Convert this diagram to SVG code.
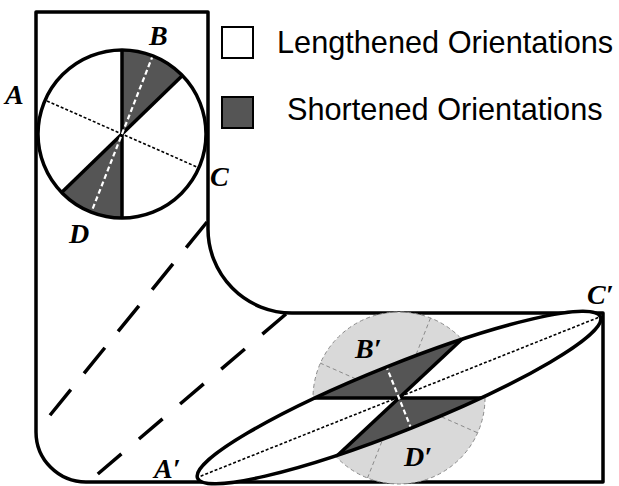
<svg xmlns="http://www.w3.org/2000/svg" width="619" height="486" viewBox="0 0 619 486">
<style>
.thick{fill:none;stroke:#000;stroke-width:3.5;stroke-linejoin:round}
.dark{fill:#555;stroke:none}
.lbl{font-family:"Liberation Serif",serif;font-weight:bold;font-style:italic;font-size:28px;fill:#000}
.leg{font-family:"Liberation Sans",Arial,sans-serif;font-size:30.7px;fill:#000}
.dotB{fill:none;stroke:#000;stroke-width:1.6;stroke-dasharray:3 2}
.dotW{fill:none;stroke:#fff;stroke-width:2.2;stroke-dasharray:5 3}
.gdash{fill:none;stroke:#8a8a8a;stroke-width:1;stroke-dasharray:4 3}
</style>
<defs>
<clipPath id="ellClip"><ellipse cx="399" cy="397.5" rx="217" ry="33" transform="rotate(-21.8 399 397.5)"/></clipPath>
</defs>
<g id="outline">
<path class="thick" d="M36,12 H208 V228 A84 84 0 0 0 292 313 H603 V482 H86 A50 50 0 0 1 36 432 Z"/>
</g>
<g id="connectors">
<line x1="207" y1="222" x2="38" y2="430" stroke="#000" stroke-width="3.5" stroke-dasharray="33 21" stroke-linecap="butt"/>
<line x1="286" y1="314" x2="86" y2="484" stroke="#000" stroke-width="3.5" stroke-dasharray="31 23" stroke-linecap="butt"/>
</g>
<g id="circle-top">
<circle cx="122" cy="134" r="84" fill="#fff"/>
<path class="dark" d="M122,134 L122,50 A84 84 0 0 1 182.4 75.6 Z"/>
<path class="dark" d="M122,134 L122,218 A84 84 0 0 1 61.6 192.4 Z"/>
<line x1="122" y1="50" x2="122" y2="218" stroke="#000" stroke-width="3.5"/>
<line x1="182.4" y1="75.6" x2="61.6" y2="192.4" stroke="#000" stroke-width="3.5"/>
<line class="dotB" x1="47" y1="101" x2="197" y2="167"/>
<line class="dotW" x1="153" y1="55" x2="91" y2="213"/>
<circle cx="122" cy="134" r="84" class="thick"/>
</g>
<g id="labels-top">
<text class="lbl" x="5" y="104">A</text>
<text class="lbl" x="149" y="45">B</text>
<text class="lbl" x="210" y="186">C</text>
<text class="lbl" x="69" y="243">D</text>
</g>
<g id="legend">
<rect x="222" y="27" width="31" height="31" fill="#fff" stroke="#000" stroke-width="2"/>
<text class="leg" x="277" y="53">Lengthened Orientations</text>
<rect x="222" y="97" width="31" height="31" fill="#555" stroke="#000" stroke-width="2"/>
<text class="leg" x="287" y="120">Shortened Orientations</text>
</g>
<g id="circle-bottom">
<circle cx="399" cy="398" r="86" fill="#d9d9d9"/>
<circle cx="399" cy="398" r="86" class="gdash"/>
<line class="gdash" x1="320" y1="363" x2="478" y2="433"/>
<line class="gdash" x1="430.5" y1="318" x2="367.5" y2="478"/>
</g>
<g id="ellipse">
<ellipse cx="399" cy="397.5" rx="217" ry="33" transform="rotate(-21.8 399 397.5)" fill="#fff"/>
<g clip-path="url(#ellClip)">
<polygon class="dark" points="399,398 551.5,255.5 150,255.5 150,398"/>
<polygon class="dark" points="399,398 650,398 650,540 247,540"/>
<line x1="150" y1="398" x2="650" y2="398" stroke="#000" stroke-width="3.5"/>
<line x1="551.5" y1="255.5" x2="247" y2="540" stroke="#000" stroke-width="3.5"/>
<line class="dotB" x1="196" y1="478" x2="602" y2="316" stroke-width="2.6" stroke-dasharray="4 3"/>
<line class="dotW" x1="371" y1="328" x2="427" y2="468" stroke-width="2.6"/>
</g>
<ellipse cx="399" cy="397.5" rx="217" ry="33" transform="rotate(-21.8 399 397.5)" class="thick"/>
</g>
<g id="labels-bottom">
<text class="lbl" x="355" y="358">B′</text>
<text class="lbl" x="404" y="466">D′</text>
<text class="lbl" x="587" y="304">C′</text>
<text class="lbl" x="154" y="478">A′</text>
</g>
</svg>
